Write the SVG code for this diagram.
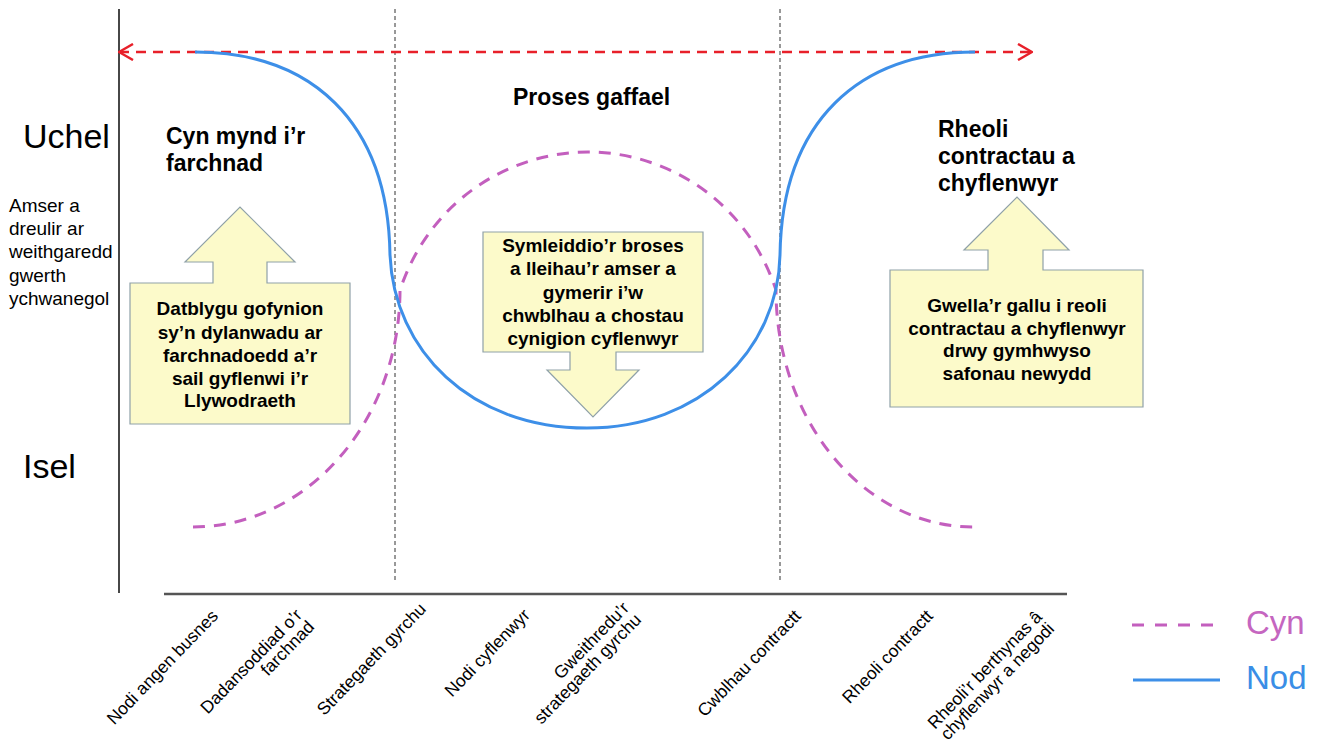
<svg xmlns="http://www.w3.org/2000/svg" width="1327" height="748" viewBox="0 0 1327 748">
<style>
.t{font-family:"Liberation Sans",Arial,sans-serif;fill:#000}
.hd{font-size:23px;font-weight:bold}
.bx{font-size:19px;font-weight:bold;text-anchor:middle}
.lvl{font-size:34px}
.side{font-size:19px}
.lab{font-size:17.5px;text-anchor:end}
.call{fill:#FCFACA;stroke:#8FA1A8;stroke-width:1.2}
.vdash{stroke:#333;stroke-width:1;stroke-dasharray:4 3;fill:none}
.pink{fill:none;stroke:#C35FBE;stroke-width:3;stroke-dasharray:12 9}
.blue{fill:none;stroke:#3D8FE8;stroke-width:3}
</style>
<defs>
<marker id="chev" viewBox="0 0 16 18" refX="15" refY="9" markerWidth="16" markerHeight="18" markerUnits="userSpaceOnUse" orient="auto-start-reverse">
<polyline points="1,1 15,9 1,17" fill="none" stroke="#E8202A" stroke-width="2.5"/>
</marker>
</defs>
<rect width="1327" height="748" fill="#fff"/>

<g id="axes">
<line x1="119" y1="9" x2="119" y2="593" stroke="#333" stroke-width="1.8"/>
<line x1="164" y1="594" x2="1067" y2="594" stroke="#555" stroke-width="2.5"/>
<line class="vdash" x1="395" y1="9" x2="395" y2="583"/>
<line class="vdash" x1="780" y1="9" x2="780" y2="583"/>
</g>

<g id="axis-labels">
<text class="t lvl" x="23" y="148">Uchel</text>
<text class="t lvl" x="23" y="478">Isel</text>
<text class="t side" x="9" y="212">Amser a</text>
<text class="t side" x="9" y="235">dreulir ar</text>
<text class="t side" x="9" y="258">weithgaredd</text>
<text class="t side" x="9" y="282">gwerth</text>
<text class="t side" x="9" y="305">ychwanegol</text>
</g>

<g id="connectors">
<line x1="119" y1="52" x2="1032" y2="52" stroke="#E8202A" stroke-width="2.5" stroke-dasharray="10 7" marker-start="url(#chev)" marker-end="url(#chev)"/>
<path id="cyn-curve" class="pink" d="M193,527 A207,237 0 0 0 400,290 C430,200 510,152 588,152 C666,152 746,200 776,290 A197,237 0 0 0 973,527"/>
<path id="nod-curve" class="blue" d="M195,52 C310,52 388,120 390,255 C394,350 470,428 587,428 C700,428 778,350 780,255 C782,120 860,52 975,52"/>
</g>

<g id="phase-pre">
<text class="t hd" x="166" y="144">Cyn mynd i’r</text>
<text class="t hd" x="166" y="171">farchnad</text>
</g>
<g id="phase-proc">
<text class="t hd" x="513" y="105">Proses gaffael</text>
</g>
<g id="phase-post">
<text class="t hd" x="938" y="137">Rheoli</text>
<text class="t hd" x="938" y="164">contractau a</text>
<text class="t hd" x="938" y="191">chyflenwyr</text>
</g>

<g id="callout-left">
<polygon class="call" points="130,283 213,283 213,262 185,262 240,207 295,262 267,262 267,283 350,283 350,424 130,424"/>
<text class="t bx" x="240" y="315">Datblygu gofynion</text>
<text class="t bx" x="240" y="339">sy’n dylanwadu ar</text>
<text class="t bx" x="240" y="362">farchnadoedd a’r</text>
<text class="t bx" x="240" y="385">sail gyflenwi i’r</text>
<text class="t bx" x="240" y="407">Llywodraeth</text>
</g>

<g id="callout-mid">
<polygon class="call" points="483,232 703,232 703,352 616,352 616,370 639,370 593,417 547,370 570,370 570,352 483,352"/>
<text class="t bx" x="593" y="252">Symleiddio’r broses</text>
<text class="t bx" x="593" y="275">a lleihau’r amser a</text>
<text class="t bx" x="593" y="299">gymerir i’w</text>
<text class="t bx" x="593" y="322">chwblhau a chostau</text>
<text class="t bx" x="593" y="345">cynigion cyflenwyr</text>
</g>

<g id="callout-right">
<polygon class="call" points="890,270 988,270 988,250 964,250 1017,197 1069,250 1043,250 1043,270 1143,270 1143,407 890,407"/>
<text class="t bx" x="1017" y="312">Gwella’r gallu i reoli</text>
<text class="t bx" x="1017" y="335">contractau a chyflenwyr</text>
<text class="t bx" x="1017" y="357">drwy gymhwyso</text>
<text class="t bx" x="1017" y="380">safonau newydd</text>
</g>

<g id="steps">
<g transform="translate(219,617) rotate(-46)"><text class="t lab">Nodi angen busnes</text></g>
<g transform="translate(303,616) rotate(-46)"><text class="t lab">Dadansoddiad o’r</text><text class="t lab" y="17">farchnad</text></g>
<g transform="translate(427,610) rotate(-46)"><text class="t lab">Strategaeth gyrchu</text></g>
<g transform="translate(531,616) rotate(-46)"><text class="t lab">Nodi cyflenwyr</text></g>
<g transform="translate(630,609) rotate(-46)"><text class="t lab">Gweithredu’r</text><text class="t lab" y="17">strategaeth gyrchu</text></g>
<g transform="translate(802,617) rotate(-46)"><text class="t lab">Cwblhau contractt</text></g>
<g transform="translate(934,617) rotate(-46)"><text class="t lab">Rheoli contractt</text></g>
<g transform="translate(1043,618) rotate(-46)"><text class="t lab">Rheoli’r berthynas â</text><text class="t lab" y="17">chyflenwyr a negodi</text></g>
</g>

<g id="legend">
<line x1="1132" y1="625" x2="1222" y2="625" stroke="#C35FBE" stroke-width="3" stroke-dasharray="12 11"/>
<text class="t" x="1246" y="634" style="font-size:33px;fill:#C566C0">Cyn</text>
<line x1="1133" y1="680" x2="1220" y2="680" stroke="#3D8FE8" stroke-width="3"/>
<text class="t" x="1246" y="689" style="font-size:33px;fill:#3A8EE6">Nod</text>
</g>
</svg>
